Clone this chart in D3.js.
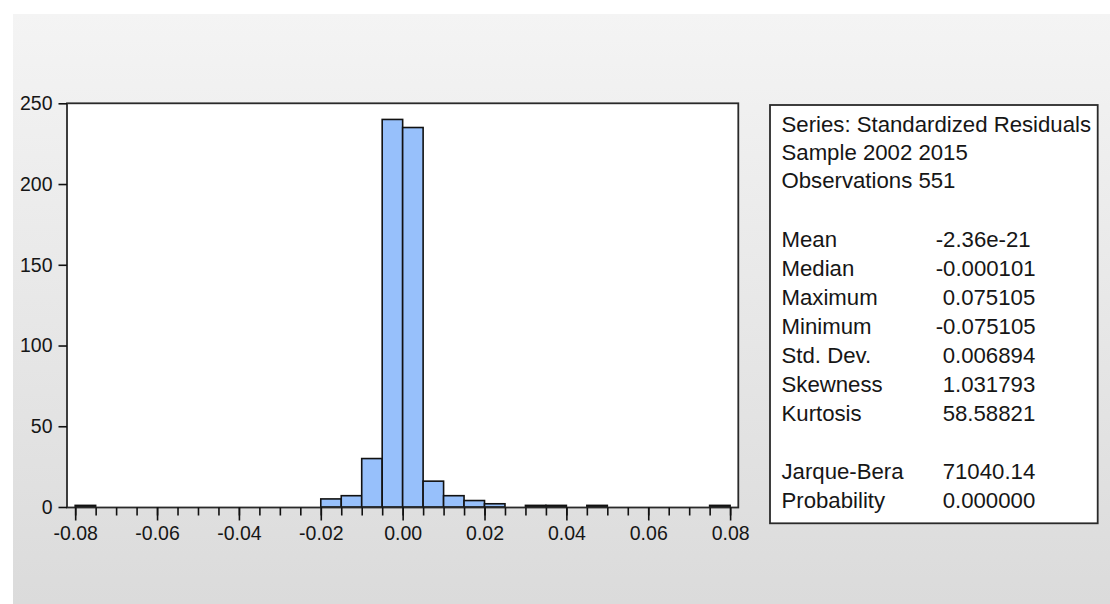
<!DOCTYPE html>
<html>
<head>
<meta charset="utf-8">
<script src="https://cdn.jsdelivr.net/npm/d3@7/dist/d3.min.js"></script>
<style>
html,body{margin:0;padding:0;background:#fff;}
svg{display:block;}
text{font-family:"Liberation Sans",Arial,sans-serif;fill:#161616;}
</style>
</head>
<body>
<svg id="chart" width="1110" height="604"></svg>
<script>
// ---- data ----
const binStarts = [-0.080,-0.075,-0.070,-0.065,-0.060,-0.055,-0.050,-0.045,-0.040,-0.035,-0.030,-0.025,
  -0.020,-0.015,-0.010,-0.005,0.000,0.005,0.010,0.015,0.020,0.025,0.030,0.035,0.040,0.045,0.050,0.055,
  0.060,0.065,0.070,0.075];
const counts = [1,0,0,0,0,0,0,0,0,0,0,0,
  5,7,30,240,235,16,7,4,2,0,1,1,0,1,0,0,
  0,0,0,1];
const binWidth = 0.005;
const xTickLabels = [-0.08,-0.06,-0.04,-0.02,0.00,0.02,0.04,0.06,0.08];
const yTickLabels = [0,50,100,150,200,250];
const statLabels = ["Mean","Median","Maximum","Minimum","Std. Dev.","Skewness","Kurtosis","","Jarque-Bera","Probability"];
const statValues = ["-2.36e-21","-0.000101","0.075105","-0.075105","0.006894","1.031793","58.58821","","71040.14","0.000000"];
const headerLines = ["Series: Standardized Residuals","Sample 2002 2015","Observations 551"];

// ---- layout ----
const svg = d3.select("#chart");
const defs = svg.append("defs");
const grad = defs.append("linearGradient").attr("id","bg").attr("x1",0).attr("y1",0).attr("x2",0).attr("y2",1);
grad.append("stop").attr("offset","0%").attr("stop-color","#f4f4f4");
grad.append("stop").attr("offset","100%").attr("stop-color","#dbdbdb");
svg.append("rect").attr("x",13).attr("y",14).attr("width",1097).attr("height",590).attr("fill","url(#bg)");

const plot = {left:67, top:103.3, right:738.3, bottom:507.5};
const x = d3.scaleLinear().domain([-0.082,0.082]).range([plot.left, plot.right]);
const y = d3.scaleLinear().domain([0,250]).range([507, 103.3]);

svg.append("rect").attr("x",plot.left).attr("y",plot.top)
  .attr("width",plot.right-plot.left).attr("height",plot.bottom-plot.top)
  .attr("fill","#fff");

// bars
const bins = binStarts.map((s,i)=>({x0:s, x1:s+binWidth, n:counts[i]})).filter(d=>d.n>0);
svg.append("g").selectAll("rect").data(bins).join("rect")
  .attr("x",d=>x(d.x0)).attr("width",d=>x(d.x1)-x(d.x0))
  .attr("y",d=>y(d.n)).attr("height",d=>y(0)-y(d.n))
  .attr("fill","#97c0fb").attr("stroke","#111").attr("stroke-width",1.6);

// frame
svg.append("rect").attr("x",plot.left).attr("y",plot.top)
  .attr("width",plot.right-plot.left).attr("height",plot.bottom-plot.top)
  .attr("fill","none").attr("stroke","#2a2a2a").attr("stroke-width",1.8);

// x axis minor ticks
const minorVals = binStarts.concat([0.080]);
const xMinor = svg.append("g").attr("transform",`translate(0,${plot.bottom})`)
  .call(d3.axisBottom(x).tickValues(minorVals).tickSize(8).tickFormat(""));
xMinor.select(".domain").remove();
xMinor.selectAll("line").attr("stroke","#111").attr("stroke-width",1.6);

const xMajor = svg.append("g").attr("transform",`translate(0,${plot.bottom})`)
  .call(d3.axisBottom(x).tickValues(xTickLabels).tickSize(13).tickPadding(6)
    .tickFormat(d=>d3.format(".2f")(d).replace("−","-")));
xMajor.select(".domain").remove();
xMajor.selectAll("line").attr("stroke","#111").attr("stroke-width",1.6);
xMajor.selectAll("text").attr("font-size","19.5px").attr("fill","#161616")
  .style("font-family","'Liberation Sans',Arial,sans-serif");

// y axis
const yAx = svg.append("g").attr("transform",`translate(${plot.left},0)`)
  .call(d3.axisLeft(y).tickValues(yTickLabels).tickSize(8.5).tickPadding(6));
yAx.select(".domain").remove();
yAx.selectAll("line").attr("stroke","#111").attr("stroke-width",1.6);
yAx.selectAll("text").attr("font-size","19.5px").attr("fill","#161616")
  .style("font-family","'Liberation Sans',Arial,sans-serif");

// stats box
svg.append("rect").attr("x",770).attr("y",105).attr("width",327.7).attr("height",418.3)
  .attr("fill","#fff").attr("stroke","#2a2a2a").attr("stroke-width",1.8);

const fs = "22.2px";
const hdr = svg.append("g");
hdr.selectAll("text").data(headerLines).join("text")
  .attr("x",781.5).attr("y",(d,i)=>131.7+i*28.3)
  .attr("font-size",fs).text(d=>d);

const st = svg.append("g");
st.selectAll("text.lab").data(statLabels).join("text").attr("class","lab")
  .attr("x",781.5).attr("y",(d,i)=>247.3+i*(508.3-247.3)/9)
  .attr("font-size",fs).text(d=>d);
st.selectAll("text.val").data(statValues).join("text").attr("class","val")
  .attr("x",d=>d.startsWith("-")?935.7:942.7).attr("y",(d,i)=>247.3+i*(508.3-247.3)/9)
  .attr("font-size",fs).text(d=>d);
</script>
</body>
</html>
